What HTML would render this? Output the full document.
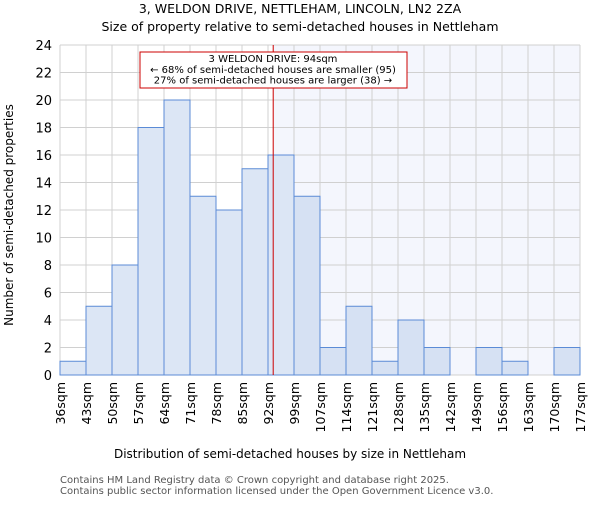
<!DOCTYPE html>
<html><head><meta charset="utf-8"><style>body{margin:0;background:#fff}svg{font-family:"DejaVu Sans","Liberation Sans",sans-serif}</style></head>
<body>
<svg id="c" width="600" height="500" xmlns="http://www.w3.org/2000/svg">
<text x="300" y="13" font-size="12.5" text-anchor="middle">3, WELDON DRIVE, NETTLEHAM, LINCOLN, LN2 2ZA</text>
<text x="300" y="31" font-size="12.5" text-anchor="middle">Size of property relative to semi-detached houses in Nettleham</text>
<g id="plot"></g>
<text x="290" y="458" font-size="12" text-anchor="middle">Distribution of semi-detached houses by size in Nettleham</text>
<text transform="translate(13,215) rotate(-90)" font-size="12" text-anchor="middle">Number of semi-detached properties</text>
<text x="60" y="483" font-size="10" fill="#555">Contains HM Land Registry data © Crown copyright and database right 2025.</text>
<text x="60" y="494" font-size="10" fill="#555">Contains public sector information licensed under the Open Government Licence v3.0.</text>
</svg>
<script>
const binLabels=["36sqm","43sqm","50sqm","57sqm","64sqm","71sqm","78sqm","85sqm","92sqm","99sqm","107sqm","114sqm","121sqm","128sqm","135sqm","142sqm","149sqm","156sqm","163sqm","170sqm","177sqm"];
const counts=[1,5,8,18,20,13,12,15,16,13,2,5,1,4,2,0,2,1,0,2];
const yTicks=[0,2,4,6,8,10,12,14,16,18,20,22,24];
const propertyBinPos=8.2;
const annotation=["3 WELDON DRIVE: 94sqm","← 68% of semi-detached houses are smaller (95)","27% of semi-detached houses are larger (38) →"];
const L=60,R=580,T=45,B=375,yMax=24;
const n=counts.length,bw=(R-L)/n;
const x=i=>L+i*bw, y=v=>B-(v/yMax)*(B-T);
const NS="http://www.w3.org/2000/svg",g=document.getElementById('plot');
function mk(t,a,p){const e=document.createElementNS(NS,t);for(const k in a)e.setAttribute(k,a[k]);(p||g).appendChild(e);return e;}
const px=x(propertyBinPos);
let e=mk('rect',{x:px,y:T,width:R-px,height:B-T,fill:'#f4f6fd'});


for(let i=0;i<=n;i++){e=mk('line',{x1:x(i),x2:x(i),y1:T,y2:B,stroke:'#d0d0d0'});

}
yTicks.forEach(v=>{e=mk('line',{x1:L,x2:R,y1:y(v),y2:y(v),stroke:'#d0d0d0'});


e=mk('text',{x:L-8,y:y(v)+5,'font-size':13,'text-anchor':'end'});e.textContent=v;

});
counts.forEach((c,i)=>{if(!c)return;e=mk('rect',{x:x(i),y:y(c),width:bw,height:y(0)-y(c),fill:i>=propertyBinPos?'#d6e1f3':'#dce6f5',stroke:'#5b8bd6','stroke-width':1});

});
binLabels.forEach((s,i)=>{e=mk('text',{transform:`translate(${x(i)+5},382) rotate(-90)`,'font-size':12.5,'text-anchor':'end'});e.textContent=s;

});
e=mk('line',{x1:px,x2:px,y1:T,y2:B,stroke:'#cc0000','stroke-width':1});


e=mk('rect',{x:140,y:52,width:267,height:36,fill:'#fff',stroke:'#cc0000'});


annotation.forEach((s,k)=>{e=mk('text',{x:273,y:62+k*10.8,'font-size':10,'text-anchor':'middle'});e.textContent=s;

});
</script>
</body></html>
